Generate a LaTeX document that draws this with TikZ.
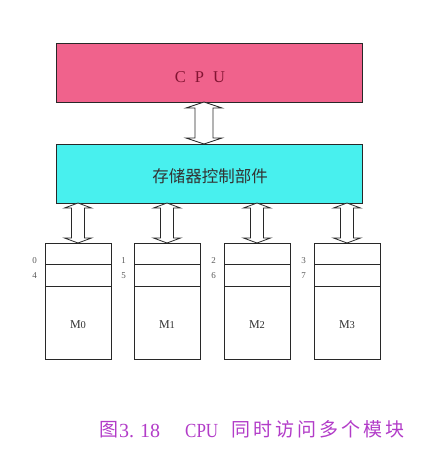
\documentclass[tikz,border=0pt]{standalone}
\usepackage{fontspec}
\setmainfont{Liberation Serif}
\newfontfamily\cjk{Noto Sans CJK SC}
\usetikzlibrary{calc}
\definecolor{cpupink}{RGB}{240,98,140}
\definecolor{ctrlcyan}{RGB}{72,240,238}
\definecolor{cputext}{RGB}{130,20,50}
\definecolor{capcol}{RGB}{178,60,200}
\definecolor{edge}{RGB}{40,40,40}
\definecolor{lbl}{RGB}{90,90,90}
\newcommand\dblarrow[5]{%
  \draw[dblarr] let \p1=(#1), \p2=(#2) in
    (\x1,\y1) -- (\x1+#4pt,\y1-#5pt) -- (\x1+#3pt,\y1-#5pt) -- (\x1+#3pt,\y2+#5pt)
    -- (\x1+#4pt,\y2+#5pt) -- (\x1,\y2) -- (\x1-#4pt,\y2+#5pt) -- (\x1-#3pt,\y2+#5pt)
    -- (\x1-#3pt,\y1-#5pt) -- (\x1-#4pt,\y1-#5pt) -- cycle;}
\newcommand\gp{\hspace{3pt}}
\begin{document}
\begin{tikzpicture}[x=1pt,y=-1pt,
  bigbox/.style={draw=edge,line width=1pt,minimum width=306pt,minimum height=59pt,anchor=north west,inner sep=0pt,outer sep=0pt},
  modbox/.style={draw=edge,line width=1pt,minimum width=66pt,minimum height=116pt,anchor=north west,inner sep=0pt,outer sep=0pt,fill=white},
  dblarr/.style={draw=edge,fill=white,line width=0.8pt,line join=miter},
  addr/.style={font=\fontsize{9}{9}\selectfont,text=lbl,anchor=east,inner sep=0pt},
  mlabel/.style={font=\fontsize{12}{12}\selectfont,text=black!80,inner sep=0pt},
  captxt/.style={text=capcol,inner sep=0pt,anchor=base west}]
\useasboundingbox (0,0) rectangle (425,455);
\node[bigbox,fill=cpupink] (cpu) at (56,43) {};
\node[font=\fontsize{16.5}{16.5}\selectfont,text=cputext] (cpulbl) at (200,77) {C\hspace{9pt}P\hspace{9pt}U};
\node[bigbox,fill=ctrlcyan] (ctrl) at (56,144) {};
\node[font=\cjk\fontsize{16.5}{16.5}\selectfont,text=black!80] (ctrllbl) at (210,176) {存储器控制部件};
\coordinate (ax) at (204,0);
\dblarrow{ax |- cpu.south}{ax |- ctrl.north}{9}{18}{6}
\foreach \i/\x/\a/\b in {0/45/0/4,1/134/1/5,2/224/2/6,3/314/3/7}{
  \node[modbox] (m\i) at (\x,243) {};
  \draw[edge,line width=1pt] ($(m\i.north west)+(0,-21pt)$) -- ($(m\i.north east)+(0,-21pt)$);
  \draw[edge,line width=1pt] ($(m\i.north west)+(0,-43pt)$) -- ($(m\i.north east)+(0,-43pt)$);
  \node[addr] (a\i) at ($(m\i.north west)+(-8pt,-18pt)$) {\a};
  \node[addr] (b\i) at ($(m\i.north west)+(-8pt,-33pt)$) {\b};
  \node[mlabel] (l\i) at ($(m\i.center)+(0,-24pt)$) {M{\fontsize{10.5}{10.5}\selectfont\i}};
  \dblarrow{m\i.north |- ctrl.south}{m\i.north}{6.5}{13.5}{5}
}
\node[captxt,font=\cjk\fontsize{19}{19}\selectfont] (cap1) at (99,436) {图};
\node[captxt,font=\fontsize{20}{20}\selectfont] (cap2) at (119,437) {3.\hspace{6pt}18};
\node[captxt,font=\fontsize{20}{20}\selectfont] (cap3) at (185,437) {\scalebox{0.85}[1]{CPU}};
\node[captxt,font=\cjk\fontsize{19}{19}\selectfont] (cap4) at (231,436) {同\gp 时\gp 访\gp 问\gp 多\gp 个\gp 模\gp 块};
\end{tikzpicture}
\end{document}
